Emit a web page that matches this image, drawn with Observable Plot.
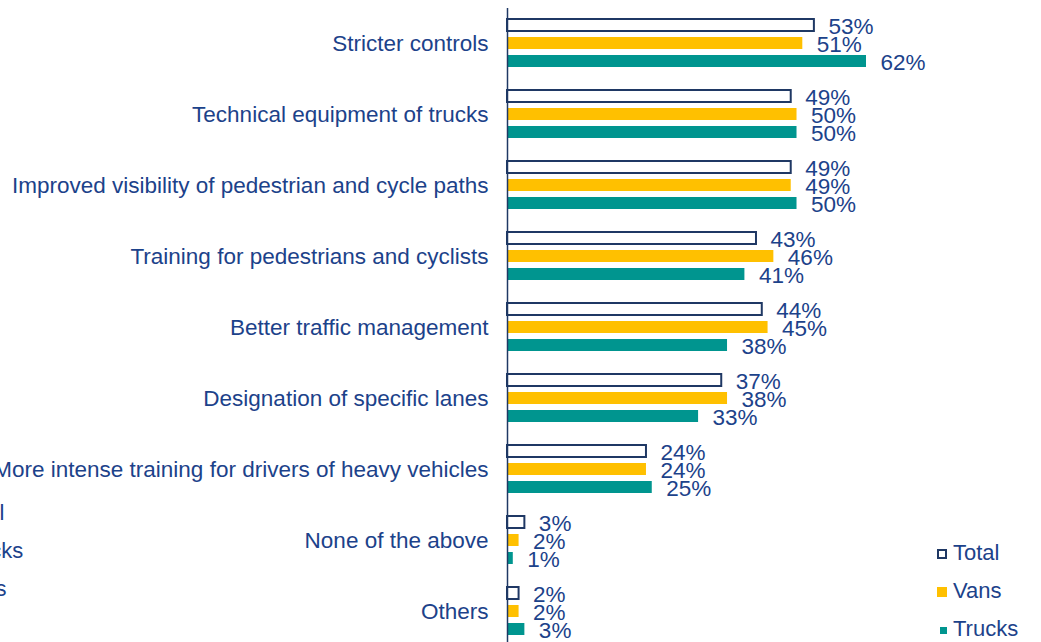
<!DOCTYPE html>
<html>
<head>
<meta charset="utf-8">
<script src="https://cdn.jsdelivr.net/npm/d3@7"></script>
<script src="https://cdn.jsdelivr.net/npm/@observablehq/plot@0.6"></script>
<style>
  html, body { margin: 0; padding: 0; background: white; overflow: hidden; }
  #wrap { position: relative; width: 1041px; height: 642px; overflow: hidden; font-family: "Liberation Sans", Arial, sans-serif; }
  .leg { position: absolute; font-size: 22px; color: #1c428a; line-height: 24px; white-space: nowrap; }
  .sw { display: inline-block; box-sizing: border-box; vertical-align: middle; margin-right: 6px; }
</style>
</head>
<body>
<div id="wrap"></div>
<script>
const categories = [
  "Stricter controls",
  "Technical equipment of trucks",
  "Improved visibility of pedestrian and cycle paths",
  "Training for pedestrians and cyclists",
  "Better traffic management",
  "Designation of specific lanes",
  "More intense training for drivers of heavy vehicles",
  "None of the above",
  "Others"
];
const series = ["Total", "Vans", "Trucks"];
const total  = [53, 49, 49, 43, 44, 37, 24, 3, 2];
const vans   = [51, 50, 49, 46, 45, 38, 24, 2, 2];
const trucks = [62, 50, 50, 41, 38, 33, 25, 1, 3];
const colors = ["white", "#FFC000", "#00958F"];
const navy = "#1f3864";
const textColor = "#1c428a";

const rows = [];
categories.forEach((c, i) => {
  rows.push({category: c, series: "Total", value: total[i]});
  rows.push({category: c, series: "Vans", value: vans[i]});
  rows.push({category: c, series: "Trucks", value: trucks[i]});
});

const chart = Plot.plot({
  width: 1041,
  height: 647,
  marginLeft: 507,
  marginRight: 175,
  marginTop: 7,
  marginBottom: 0,
  style: {fontFamily: "'Liberation Sans', Arial, sans-serif", fontSize: "22.5px", color: textColor, background: "white"},
  fy: {domain: categories, padding: 0, axis: "left", tickSize: 0, tickPadding: 19, label: null},
  y: {domain: series, axis: null, paddingInner: 0.32, paddingOuter: 0.58},
  x: {domain: [0, 62], axis: null},
  color: {domain: series, range: colors},
  marks: [
    Plot.barX(rows.filter(d => d.series !== "Total"), {fy: "category", y: "series", x: "value", fill: "series"}),
    Plot.barX(rows.filter(d => d.series === "Total"), {fy: "category", y: "series", x: "value", fill: "white", stroke: navy, strokeWidth: 2}),
    Plot.text(rows, {fy: "category", y: "series", x: "value", text: d => d.value + "%", textAnchor: "start", dx: 14, dy: 1.5, fill: textColor, fontSize: 22.5}),
    Plot.ruleX([0], {stroke: navy, strokeWidth: 1.5})
  ]
});
const wrap = document.getElementById("wrap");
wrap.appendChild(chart);

// legend (right)
const legTop = [541, 579, 617];
series.forEach((s, i) => {
  const d = document.createElement("div");
  d.className = "leg";
  d.style.left = (i === 2 ? 939 : 937) + "px";
  d.style.top = legTop[i] + "px";
  const sw = document.createElement("span");
  sw.className = "sw";
  const sz = i === 2 ? 7 : 10;
  sw.style.width = sz + "px";
  sw.style.height = sz + "px";
  sw.style.background = colors[i];
  if (i === 0) sw.style.border = "2px solid " + navy;
  if (i === 2) sw.style.marginLeft = "1px";
  d.appendChild(sw);
  d.appendChild(document.createTextNode(s));
  wrap.appendChild(d);
});

// cropped legend fragment (left edge)
const fragOrder = ["Total", "Trucks", "Vans"];
const fragTop = [501, 539, 577];
fragOrder.forEach((s, i) => {
  const d = document.createElement("div");
  d.className = "leg";
  d.style.left = "-42px";
  d.style.top = fragTop[i] + "px";
  d.textContent = s;
  wrap.appendChild(d);
});
</script>
</body>
</html>
